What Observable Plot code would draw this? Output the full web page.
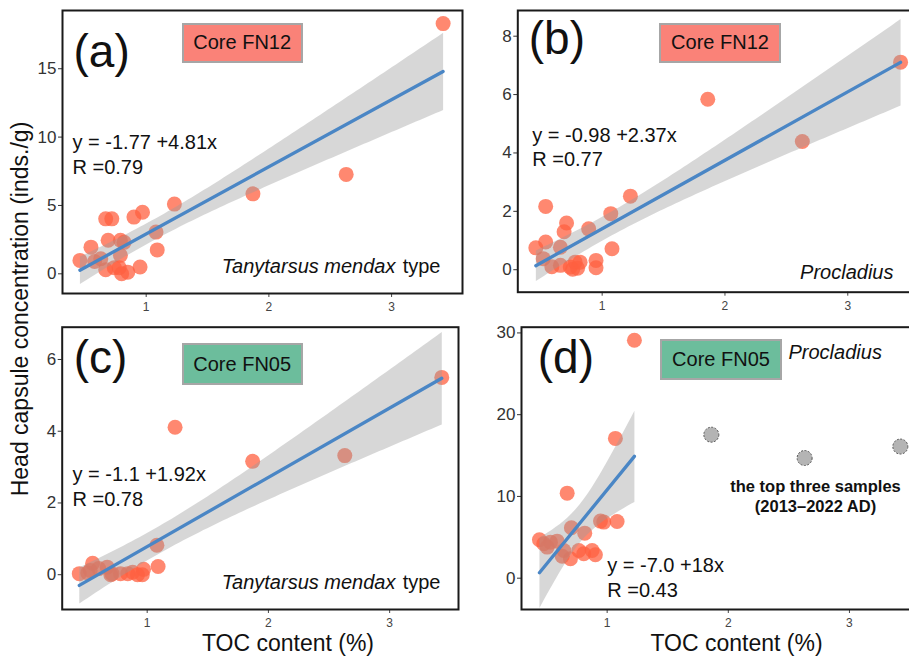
<!DOCTYPE html>
<html><head><meta charset="utf-8">
<script src="https://cdn.jsdelivr.net/npm/d3@7"></script>
<script src="https://cdn.jsdelivr.net/npm/@observablehq/plot@0.6"></script>
<style>
body{margin:0;background:#fff;}
#fig{position:relative;width:909px;height:658px;overflow:hidden;background:#fff;font-family:"Liberation Sans",Arial,sans-serif;}
.panel{position:absolute;}
.box{position:absolute;box-sizing:border-box;border:2px solid #a6a6a6;display:flex;align-items:center;justify-content:center;font-size:20px;color:#111;}
.ytitle{position:absolute;font-size:23px;color:#111;white-space:nowrap;transform:translate(-50%,-50%) rotate(-90deg);}
</style></head><body><div id="fig"></div>
<script>
// ---- data ----
// (a) Core FN12, Tanytarsus mendax type
const tocA  = [0.46,0.55,0.58,0.63,0.67,0.72,0.69,0.79,0.82,0.79,0.67,0.74,0.78,0.85,0.80,0.95,0.90,0.97,1.08,1.09,1.23,1.87,2.63,3.42];
const concA = [0.98,1.95,0.90,1.10,4.02,4.02,2.45,2.45,2.30,1.35,0.30,0.45,0.45,0.12,0.00,0.50,4.15,4.50,3.05,1.75,5.10,5.85,7.27,18.3];
// (b) Core FN12, Procladius
const tocB  = [0.46,0.54,0.54,0.52,0.59,0.66,0.66,0.69,0.71,0.74,0.76,0.78,0.80,0.82,0.89,0.95,0.95,1.07,1.08,1.23,1.86,2.63,3.43];
const concB = [0.75,0.95,2.17,0.38,0.10,0.77,0.15,1.30,1.60,0.09,0.02,0.26,0.05,0.26,1.40,0.32,0.07,1.92,0.72,2.52,5.84,4.39,7.11];
// (c) Core FN05, Tanytarsus mendax type
const tocC  = [0.44,0.51,0.53,0.55,0.60,0.67,0.70,0.71,0.78,0.84,0.88,0.92,0.96,0.97,1.08,1.09,1.23,1.87,2.63,3.43];
const concC = [0.03,0.05,0.12,0.32,0.17,0.21,0.00,0.03,0.03,0.03,0.07,0.00,0.00,0.15,0.82,0.23,4.11,3.16,3.32,5.50];
// (d) Core FN05, Procladius (fitted samples)
const tocD  = [1.225,1.068,0.67,1.082,0.945,0.972,0.705,0.815,0.441,0.477,0.532,0.587,0.505,0.642,0.629,0.697,0.766,0.807,0.876,0.903];
const concD = [29.1,17.1,10.4,6.94,6.98,6.86,6.17,5.51,4.70,4.21,4.41,4.53,3.80,3.39,2.69,2.37,3.39,2.99,3.39,2.86];
// (d) the top three samples (2013–2022 AD), not fitted
const tocTop  = [1.86,2.63,3.42];
const concTop = [17.55,14.7,16.1];

const xTicks = [1,2,3];
const yTicksA = [0,5,10,15];
const yTicksB = [0,2,4,6,8];
const yTicksC = [0,2,4,6];
const yTicksD = [0,10,20,30];

const panelLabels = ["(a)","(b)","(c)","(d)"];
const coreLabels = ["Core FN12","Core FN12","Core FN05","Core FN05"];
const equations = ["y = -1.77 +4.81x","y = -0.98 +2.37x","y = -1.1 +1.92x","y = -7.0 +18x"];
const rLabels = ["R =0.79","R =0.77","R =0.78","R =0.43"];
const taxaItalic = ["Tanytarsus mendax","Procladius","Tanytarsus mendax","Procladius"];
const taxaSuffix = ["type","","type",""];
const topNote = ["the top three samples","(2013–2022 AD)"];
const xTitle = "TOC content (%)";
const yTitle = "Head capsule concentration (inds./g)";

// ---- drawing ----
const FONT = '"Liberation Sans", Arial, sans-serif';
const DOT = "#ff6040";
const LINE = "#4a86c5";
const FN12 = "#fa8278";
const FN05 = "#6cbd9c";

function zip(xs, ys){ return xs.map((x,i)=>({x, y: ys[i]})); }
function txt(s, o){ return Plot.text([s], {text: d=>d, frameAnchor:"top-left", textAnchor:"start", lineAnchor:"bottom", fill:"#111", ...o}); }

function panel(cfg){
  const data = zip(cfg.x, cfg.y);
  const marks = [
    Plot.axisY({ticks: cfg.yTicks, tickFormat: d=>String(d), tickSize:4, tickPadding:2, fontSize:17, color:"#333", label:null}),
    Plot.axisX({ticks: xTicks, tickFormat: d=>String(d), tickSize:4, tickPadding:5, fontSize:12, color:"#444", label:null}),
    Plot.dot(data, {x:"x", y:"y", r:7.5, fill:DOT, fillOpacity:0.75, stroke:"none"}),
    ...(cfg.extra || []),
    Plot.linearRegressionY(data, {x:"x", y:"y", stroke:LINE, strokeWidth:3.3, fill:"#9a9a9a", fillOpacity:0.4, ci:0.95}),
    Plot.frame({stroke:"#1a1a1a", strokeWidth:2}),
    ...cfg.texts
  ];
  const p = Plot.plot({
    width: cfg.width, height: cfg.height,
    marginLeft: cfg.ml, marginRight: cfg.mr, marginTop: cfg.mt, marginBottom: cfg.mb,
    x: {domain: cfg.xd}, y: {domain: cfg.yd},
    style: {fontFamily: FONT, background: "transparent", overflow: "visible"},
    marks
  });
  p.classList.add("panel");
  p.style.left = cfg.left + "px";
  p.style.top = cfg.top + "px";
  return p;
}

const fig = document.getElementById("fig");

// (a)
fig.appendChild(panel({
  x: tocA, y: concA, yTicks: yTicksA, left:0, top:0, width:470, height:318,
  ml:62, mr:8, mt:10, mb:25, xd:[0.318,3.578], yd:[-1.44,19.26],
  texts: [
    txt(panelLabels[0], {dx:11, dy:56, fontSize:46}),
    txt(equations[0], {dx:10, dy:138, fontSize:20}),
    txt(rLabels[0], {dx:10, dy:163, fontSize:20}),
    txt(taxaItalic[0], {frameAnchor:"top-right", textAnchor:"end", dx:-67, dy:262, fontSize:20, fontStyle:"italic"}),
    txt(taxaSuffix[0], {frameAnchor:"top-right", textAnchor:"end", dx:-22, dy:262, fontSize:20})
  ]
}));

// (b)
fig.appendChild(panel({
  x: tocB, y: concB, yTicks: yTicksB, left:460, top:0, width:470, height:318,
  ml:57.3, mr:12, mt:10, mb:26.3, xd:[0.313,3.576], yd:[-0.77,8.88],
  texts: [
    txt(panelLabels[1], {dx:11, dy:43, fontSize:46}),
    txt(equations[1], {dx:14.4, dy:131.7, fontSize:20}),
    txt(rLabels[1], {dx:14.4, dy:155.7, fontSize:20}),
    txt(taxaItalic[1], {frameAnchor:"top-right", textAnchor:"end", dx:-25, dy:268, fontSize:20, fontStyle:"italic"})
  ]
}));

// (c)
fig.appendChild(panel({
  x: tocC, y: concC, yTicks: yTicksC, left:0, top:318, width:470, height:340,
  ml:61.7, mr:12, mt:8.7, mb:49, xd:[0.299,3.568], yd:[-0.97,6.90],
  texts: [
    txt(panelLabels[2], {dx:11.6, dy:45.3, fontSize:46}),
    txt(equations[2], {dx:10.3, dy:153.3, fontSize:20}),
    txt(rLabels[2], {dx:10.3, dy:178.3, fontSize:20}),
    txt(taxaItalic[2], {frameAnchor:"top-right", textAnchor:"end", dx:-63, dy:261.6, fontSize:20, fontStyle:"italic"}),
    txt(taxaSuffix[2], {frameAnchor:"top-right", textAnchor:"end", dx:-18, dy:261.6, fontSize:20}),
    txt(xTitle, {frameAnchor:"bottom", textAnchor:"middle", dx:27.6, dy:41, fontSize:23})
  ]
}));

// (d)
const topData = zip(tocTop, concTop);
fig.appendChild(panel({
  x: tocD, y: concD, yTicks: yTicksD, left:460, top:318, width:470, height:340,
  ml:61, mr:12, mt:8.7, mb:49, xd:[0.293,3.57], yd:[-3.83,30.7],
  extra: [Plot.dot(topData, {x:"x", y:"y", r:7.5, fill:"#b4b4b4", stroke:"#555", strokeWidth:1, strokeDasharray:"2,1.5"})],
  texts: [
    txt(panelLabels[3], {dx:16.3, dy:45.3, fontSize:46}),
    txt(equations[3], {dx:85.7, dy:245, fontSize:20}),
    txt(rLabels[3], {dx:85.7, dy:270, fontSize:20}),
    txt(taxaItalic[3], {dx:267, dy:31.3, fontSize:20, fontStyle:"italic"}),
    txt(topNote[0], {textAnchor:"middle", dx:294, dy:165, fontSize:16.5, fontWeight:"bold"}),
    txt(topNote[1], {textAnchor:"middle", dx:294, dy:185, fontSize:16.5, fontWeight:"bold"}),
    txt(xTitle, {frameAnchor:"bottom", textAnchor:"middle", dx:16.5, dy:41, fontSize:23})
  ]
}));

// core label boxes
const boxes = [
  {left:181.7, top:22.7, w:121, h:40, fill:FN12},
  {left:659.3, top:22.7, w:121.4, h:40, fill:FN12},
  {left:181.7, top:343.3, w:121, h:41.7, fill:FN05},
  {left:660, top:339, w:122, h:41, fill:FN05}
];
boxes.forEach((b,i)=>{
  const d = document.createElement("div");
  d.className = "box";
  d.style.left = b.left+"px"; d.style.top = b.top+"px";
  d.style.width = b.w+"px"; d.style.height = b.h+"px";
  d.style.background = b.fill;
  d.textContent = coreLabels[i];
  fig.appendChild(d);
});

// shared y title
const yt = document.createElement("div");
yt.className = "ytitle";
yt.style.left = "20px"; yt.style.top = "309px";
yt.textContent = yTitle;
fig.appendChild(yt);
</script>
</body></html>
